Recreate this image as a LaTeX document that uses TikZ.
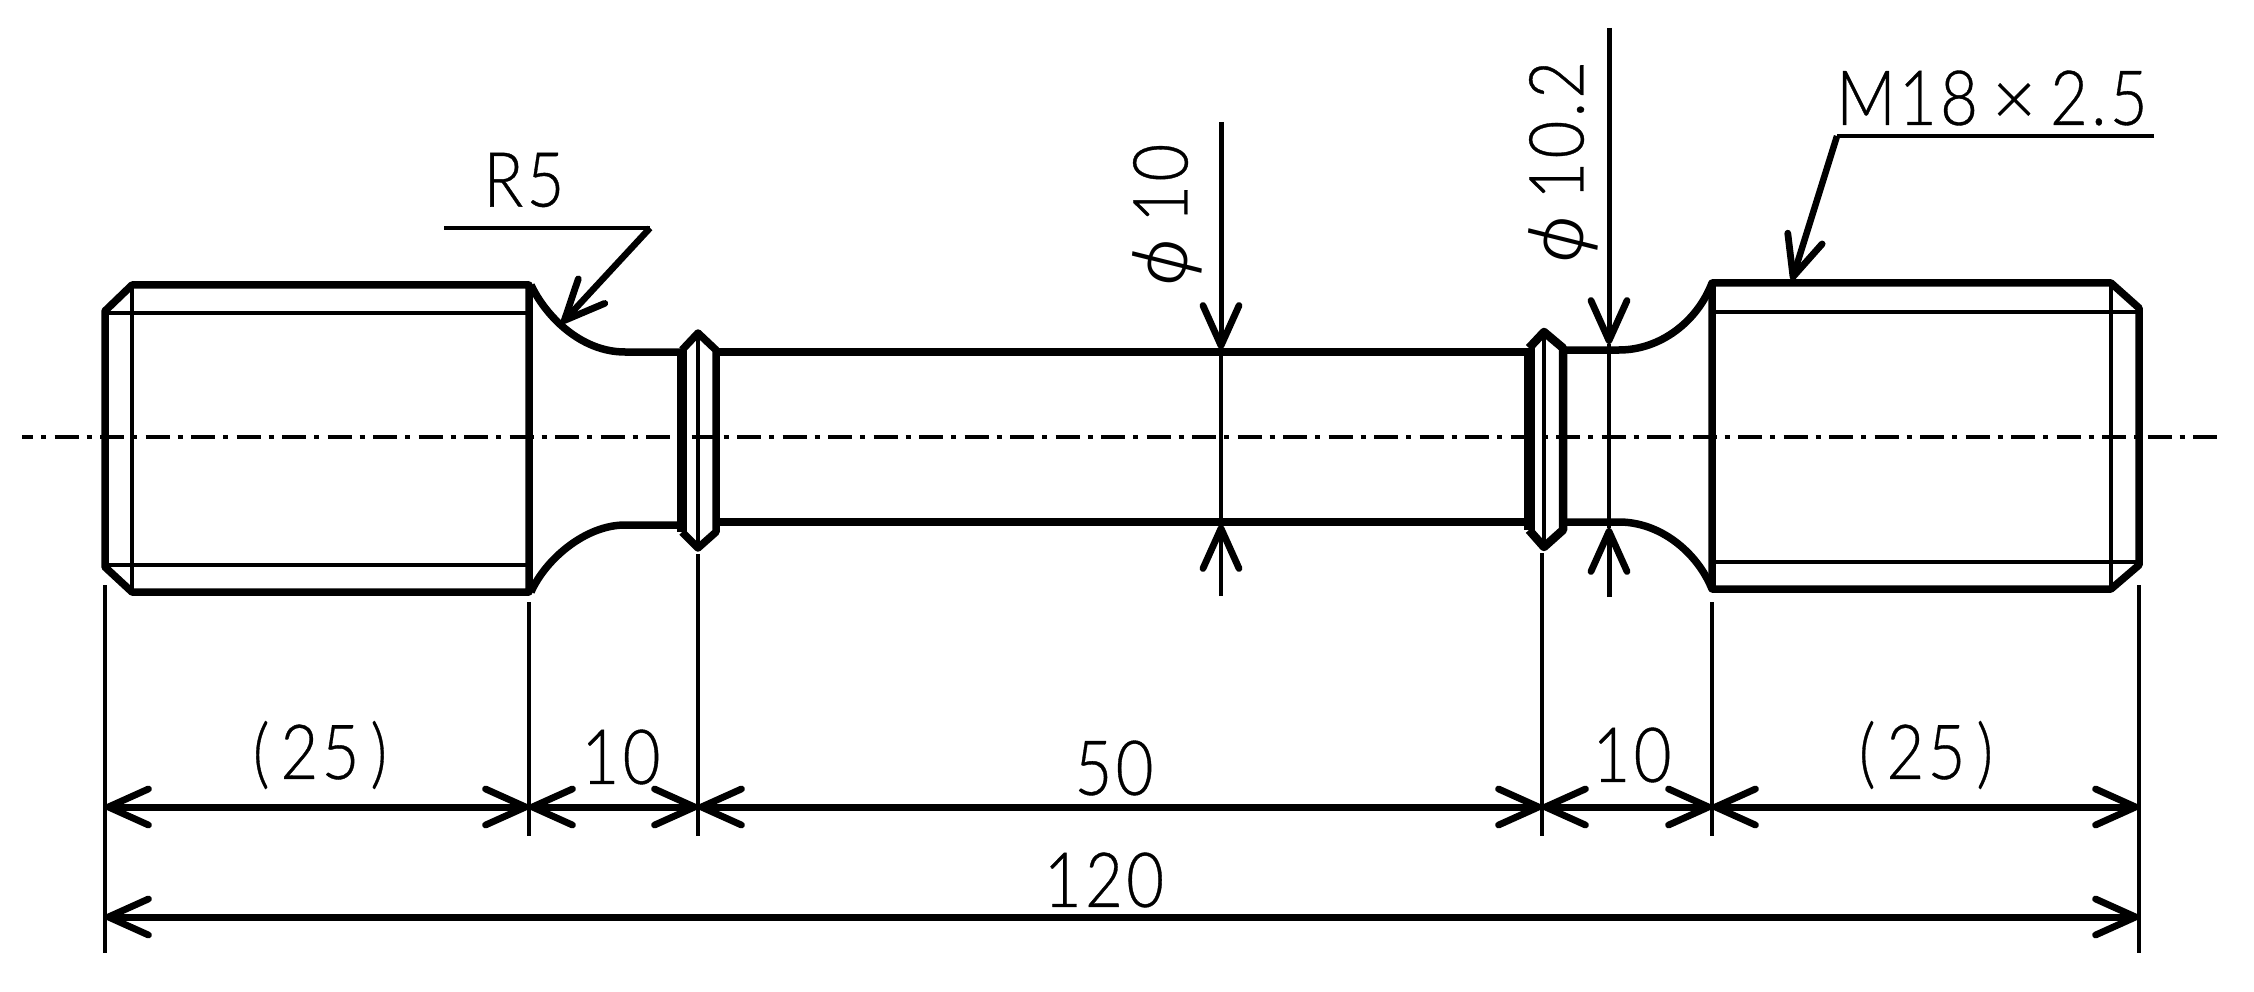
\documentclass[tikz,border=0pt]{standalone}
\usepackage{graphicx}
\usepackage{fontspec}
\setmainfont{Liberation Sans}
\newfontfamily\phifont{Fira Sans Light}
\newfontfamily\numfont[LetterSpace=5,FakeBold=0.5]{Lato Light}
\usetikzlibrary{arrows.meta}
\newcommand{\nar}[1]{\scalebox{.86}[1]{#1}}
\newcommand{\phisym}{\rotatebox[origin=c]{-14}{\phifont\fontsize{76}{80}\selectfont ϕ}}
\tikzset{
  thick line/.style={line width=7.5pt,line join=miter,line cap=butt},
  thin line/.style={line width=4.2pt},
  center line/.style={line width=4.5pt,dash pattern=on 24pt off 8pt on 5pt off 8.5pt,dash phase=13pt},
  barb/.tip={Straight Barb[length=40pt,width=36pt,line width=6.8pt,round]},
  dim line/.style={line width=7pt,{barb}-{barb}},
  lead/.style={line width=6.5pt,-{barb}},
  lbl/.style={inner sep=0pt,outer sep=0pt,font=\numfont\fontsize{76}{80}\selectfont,text=black},
}
\begin{document}
\begin{tikzpicture}[x=1pt,y=-1pt]
\useasboundingbox (0,0) rectangle (2254,992);
% left thread
\draw[thick line,line join=round] (132,285) -- (529,285) -- (529,592) -- (132,592) -- (105,567) -- (105,311) -- cycle;
\draw[thin line] (132,285) -- (132,592);
\draw[thin line] (105,313) -- (529,313);
\draw[thin line] (105,565) -- (529,565);
% left fillets and neck
\draw[thick line] (531,285) .. controls (545,315) and (580,352) .. (625,352) -- (682,352);
\draw[thick line] (531,592) .. controls (545,560) and (585,525) .. (625,525) -- (682,525);
% left groove
\draw[line width=10pt] (682,350) -- (682,532);
\draw[thick line,line join=round] (682,350) -- (698,333) -- (716,350) -- (716,532) -- (698,548) -- (682,532);
\draw[thin line] (698,333) -- (698,548);
% gauge length
\draw[thick line] (716,352) -- (1529,352);
\draw[thick line] (716,522) -- (1529,522);
% right groove
\draw[line width=11pt] (1529,348) -- (1529,530);
\draw[line width=8.5pt,line join=round] (1529,348) -- (1544,332) -- (1563,348) -- (1563,530) -- (1544,547) -- (1529,530);
\draw[thin line] (1544,332) -- (1544,547);
% right neck and fillets
\draw[thick line] (1563,350) -- (1619,350) .. controls (1660,350) and (1697,322) .. (1712,283);
\draw[thick line] (1563,522) -- (1619,522) .. controls (1660,522) and (1697,552) .. (1712,589);
% right thread
\draw[thick line,line join=round] (1712,283) -- (2111,283) -- (2139,308) -- (2139,565) -- (2111,589) -- (1712,589) -- cycle;
\draw[thin line] (2111,283) -- (2111,589);
\draw[thin line] (1712,312) -- (2139,312);
\draw[thin line] (1712,562) -- (2139,562);
% centre line
\draw[center line] (22,437) -- (2221,437);
% extension lines
\foreach \n/\xx/\ya/\yb in {e1/105/585/953,e2/529/602/836,e3/698/554/836,e4/1542/553/836,e5/1712/602/836,e6/2139/585/953}{
  \coordinate (\n a) at (\xx,\ya);
  \coordinate (\n b) at (\xx,\yb);
  \draw[thin line] (\n a) -- (\n b);
}
% dimension points
\coordinate (d1) at (105,807); \coordinate (d2) at (529,807); \coordinate (d3) at (698,807);
\coordinate (d4) at (1542,807); \coordinate (d5) at (1712,807); \coordinate (d6) at (2139,807);
\coordinate (t1) at (105,917); \coordinate (t6) at (2139,917);
\draw[dim line] (d1) -- (d2);
\draw[dim line] (d2) -- (d3);
\draw[dim line] (d3) -- (d4);
\draw[dim line] (d4) -- (d5);
\draw[dim line] (d5) -- (d6);
\draw[dim line] (t1) -- (t6);
% phi 10
\coordinate (pa) at (1221,122); \coordinate (pb) at (1221,349);
\coordinate (pc) at (1221,596); \coordinate (pd) at (1221,525);
\draw[thin line] (pb) -- (pd);
\draw[lead,line width=5pt] (pa) -- (pb);
\draw[thin line,-{barb}] (pc) -- (pd);
% phi 10.2
\coordinate (qa) at (1609,28); \coordinate (qb) at (1609,344);
\coordinate (qc) at (1609,597); \coordinate (qd) at (1609,528);
\draw[thin line] (qb) -- (qd);
\draw[lead,line width=5pt] (qa) -- (qb);
\draw[lead,line width=5pt] (qc) -- (qd);
% leaders
\coordinate (ra) at (444,228); \coordinate (rb) at (650,228); \coordinate (rc) at (562,323);
\draw[thin line] (ra) -- (rb);
\draw[lead] (rb) -- (rc);
\coordinate (ma) at (2154,136); \coordinate (mb) at (1837,136); \coordinate (mc) at (1792,280);
\draw[thin line] (ma) -- (mb);
\draw[lead] (mb) -- (mc);
% labels
\node[lbl] (lr5) at (524,180) {\nar{R5}};
\node[lbl] (lm) at (1992,98) {\nar{M18}\hspace{14pt}{\fontsize{76}{76}\selectfont ×}\hspace{14pt}\nar{2.5}};
\node[lbl,rotate=90] (lp10) at (1167,219) {\phisym\hspace{8pt}\nar{10}};
\node[lbl,rotate=90] (lp102) at (1563,166) {\phisym\hspace{8pt}\nar{10.2}};
\node[lbl] (l25a) at (320,755) {\nar{(\,25\,)}};
\node[lbl] (l10a) at (621,757) {\nar{10}};
\node[lbl] (l50) at (1114,768) {\nar{50}};
\node[lbl] (l10b) at (1632,755) {\nar{10}};
\node[lbl] (l25b) at (1926,755) {\nar{(\,25\,)}};
\node[lbl] (l120) at (1104,880) {\nar{120}};
\end{tikzpicture}
\end{document}
